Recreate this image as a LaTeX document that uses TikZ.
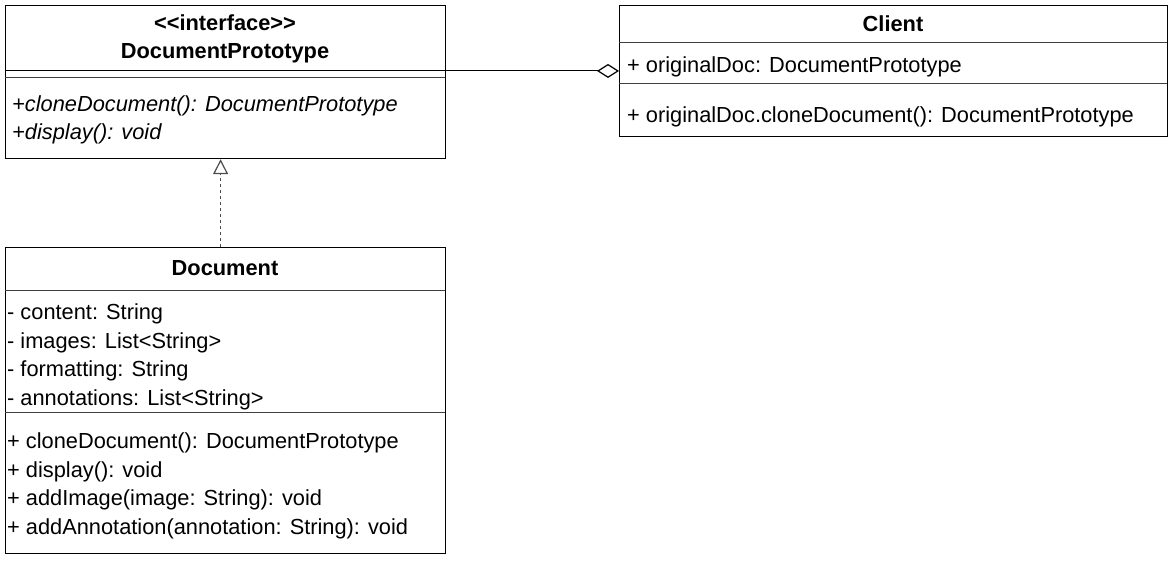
\documentclass[tikz,border=0pt]{standalone}
\usepackage{fontspec}
\setmainfont{Liberation Sans}
\usetikzlibrary{arrows.meta}
\tikzset{
  umlbox/.style={draw=black, line width=1.2pt, fill=white, inner sep=0pt, anchor=north west},
  sep/.style={draw=black!75, line width=1.4pt},
  txt/.style={anchor=base west, inner sep=0pt, font=\fontsize{21.8}{26}\selectfont},
  ttl/.style={anchor=base, inner sep=0pt, font=\fontsize{21.8}{26}\selectfont\bfseries},
  realize/.style={draw=black!70, line width=1.3pt, dash pattern=on 3pt off 3pt, -{Triangle[open,length=15pt,width=15pt,line width=1.2pt]}},
  aggr/.style={draw=black, line width=1pt, -{Diamond[open,length=22pt,width=14pt,line width=1.2pt]}}
}
\begin{document}
\begin{tikzpicture}[x=1pt,y=-1pt]
\useasboundingbox (0,0) rectangle (1175,561);
% Interface
\node[umlbox, minimum width=440pt, minimum height=153.3pt] (iface) at (5,4.7) {};
\draw[draw=black, line width=1pt] (5,70.7) -- (445,70.7);
\draw[sep] (5,77.3) -- (445,77.3);
\node[ttl] (ifst) at (225,31) {<\kern0pt<interface>\kern0pt>};
\node[ttl] (ifname) at (225,58.5) {DocumentPrototype};
\node[txt, font=\fontsize{21.8}{26}\selectfont\itshape] (ifm1) at (12,112) {+cloneDocument(): DocumentPrototype};
\node[txt, font=\fontsize{21.8}{26}\selectfont\itshape] (ifm2) at (12,140) {+display(): void};
% Client
\node[umlbox, minimum width=548pt, minimum height=131.3pt] (client) at (619,4.7) {};
\draw[sep] (619,42.7) -- (1167,42.7);
\draw[sep] (619,83.3) -- (1167,83.3);
\node[ttl] (clname) at (893,31.5) {Client};
\node[txt] (cla1) at (627,72.7) {+ originalDoc: DocumentPrototype};
\node[txt] (clm1) at (627,122.7) {+ originalDoc.cloneDocument(): DocumentPrototype};
% Document
\node[umlbox, minimum width=440pt, minimum height=306pt] (doc) at (5,246.7) {};
\draw[sep] (5,290.7) -- (445,290.7);
\draw[sep] (5,412.7) -- (445,412.7);
\node[ttl] (docname) at (225,275.5) {Document};
\node[txt] (da1) at (7,319.5) {- content: String};
\node[txt] (da2) at (7,348.2) {- images: List<String>};
\node[txt] (da3) at (7,376.9) {- formatting: String};
\node[txt] (da4) at (7,405.6) {- annotations: List<String>};
\node[txt] (dm1) at (7,448.5) {+ cloneDocument(): DocumentPrototype};
\node[txt] (dm2) at (7,477.2) {+ display(): void};
\node[txt] (dm3) at (7,505.9) {+ addImage(image: String): void};
\node[txt] (dm4) at (7,534.6) {+ addAnnotation(annotation: String): void};
% Connectors
\draw[realize] ([xshift=-5pt]doc.north) -- ([xshift=-5pt]iface.south);
\draw[aggr] (iface.east |- client.west) -- (client.west);
\end{tikzpicture}
\end{document}
